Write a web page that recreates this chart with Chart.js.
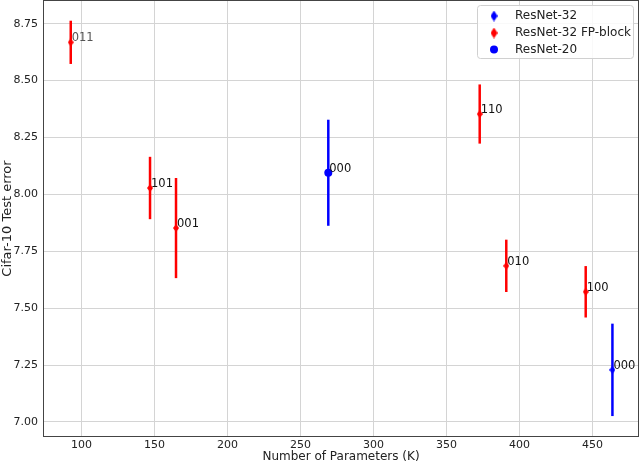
<!DOCTYPE html>
<html>
<head>
<meta charset="utf-8">
<script src="https://cdn.jsdelivr.net/npm/chart.js@4.4.1/dist/chart.umd.min.js"></script>
<style>
    html, body { margin: 0; padding: 0; background: #fff; }
    #wrap { width: 640px; height: 464px; }
</style>
</head>
<body>
<div id="wrap"><canvas id="chart" width="640" height="464"></canvas></div>
<script>
// Data
const fpParams = [92.6, 146.9, 164.7, 372.7, 390.9, 445.3];
const fpError = [8.668, 8.028, 7.852, 8.353, 7.686, 7.572];
const fpStd = [0.095, 0.137, 0.22, 0.13, 0.115, 0.113];
const fpCodes = ['011', '101', '001', '110', '010', '100'];

const r32Params = [463.6];
const r32Error = [7.229];
const r32Std = [0.203];
const r32Codes = ['000'];

const r20Params = [269.0];
const r20Error = [8.095];
const r20Std = [0.233];
const r20Codes = ['000'];

const seriesNames = ['ResNet-32', 'ResNet-32 FP-block', 'ResNet-20'];
const xTicks = [100, 150, 200, 250, 300, 350, 400, 450];
const yTicks = [7.00, 7.25, 7.50, 7.75, 8.00, 8.25, 8.50, 8.75];

const FONT = 'DejaVu Sans';
const RED = '#ff0000';
const BLUE = '#0000ff';

// Thin diamond marker, like matplotlib 'd'
const makeDiamond = (color, w, h) => {
    const c = document.createElement('canvas');
    c.width = w;
    c.height = h;
    const g = c.getContext('2d');
    g.fillStyle = color;
    g.beginPath();
    g.moveTo(w / 2, 0);
    g.lineTo(w, h / 2);
    g.lineTo(w / 2, h);
    g.lineTo(0, h / 2);
    g.closePath();
    g.fill();
    return c;
};

const toPoints = (xs, ys) => xs.map((x, i) => ({ x, y: ys[i] }));

const errorBars = {
    id: 'errorBars',
    beforeDatasetsDraw(chart) {
        const { ctx, scales: { y } } = chart;
        chart.data.datasets.forEach((ds, di) => {
            const meta = chart.getDatasetMeta(di);
            ctx.save();
            ctx.strokeStyle = ds.barColor;
            ctx.lineWidth = 2.5;
            meta.data.forEach((pt, i) => {
                const v = ds.data[i].y;
                ctx.beginPath();
                ctx.moveTo(pt.x, y.getPixelForValue(v + ds.errors[i]));
                ctx.lineTo(pt.x, y.getPixelForValue(v - ds.errors[i]));
                ctx.stroke();
            });
            ctx.restore();
        });
    },
    afterDatasetsDraw(chart) {
        const { ctx } = chart;
        ctx.save();
        ctx.font = '11.5px "' + FONT + '"';
        ctx.textBaseline = 'middle';
        ctx.textAlign = 'left';
        chart.data.datasets.forEach((ds, di) => {
            const meta = chart.getDatasetMeta(di);
            meta.data.forEach((pt, i) => {
                ctx.fillStyle = ds.codes[i] === '011' && di === 1 ? '#555' : '#111';
                ctx.fillText(ds.codes[i], pt.x + 1, pt.y - 4);
            });
        });
        ctx.restore();
    },
};

const frameAndLegend = {
    id: 'frameAndLegend',
    afterDraw(chart) {
        const { ctx, chartArea: a } = chart;
        ctx.save();
        ctx.strokeStyle = '#444';
        ctx.lineWidth = 1;
        ctx.strokeRect(a.left + 0.5, a.top + 0.5, a.right - a.left - 1, a.bottom - a.top - 1);

        // legend box
        const bx = 477.5, by = 5.5, bw = 156, bh = 53;
        ctx.fillStyle = 'rgba(255,255,255,0.85)';
        ctx.strokeStyle = '#d0d0d0';
        ctx.beginPath();
        ctx.roundRect(bx, by, bw, bh, 3);
        ctx.fill();
        ctx.stroke();

        ctx.font = '12px "' + FONT + '"';
        ctx.textBaseline = 'middle';
        const rows = [16, 33, 49.5];
        chart.data.datasets.forEach((ds, i) => {
            const cy = rows[i];
            if (ds.pointStyle === 'circle') {
                ctx.fillStyle = BLUE;
                ctx.beginPath();
                ctx.arc(494, cy, 4, 0, Math.PI * 2);
                ctx.fill();
            } else {
                const img = makeDiamond(ds.barColor, 7, 11);
                ctx.drawImage(img, 494 - 3.5, cy - 5.5);
            }
            ctx.fillStyle = '#222';
            ctx.fillText(ds.label, 515, cy);
        });
        ctx.restore();
    },
};

new Chart(document.getElementById('chart'), {
    type: 'scatter',
    data: {
        datasets: [
            {
                label: seriesNames[0],
                data: toPoints(r32Params, r32Error),
                errors: r32Std,
                codes: r32Codes,
                barColor: BLUE,
                pointStyle: makeDiamond(BLUE, 6, 8),
            },
            {
                label: seriesNames[1],
                data: toPoints(fpParams, fpError),
                errors: fpStd,
                codes: fpCodes,
                barColor: RED,
                pointStyle: makeDiamond(RED, 6, 8),
            },
            {
                label: seriesNames[2],
                data: toPoints(r20Params, r20Error),
                errors: r20Std,
                codes: r20Codes,
                barColor: BLUE,
                pointStyle: 'circle',
                pointRadius: 4,
                backgroundColor: BLUE,
                borderColor: BLUE,
                borderWidth: 0,
            },
        ],
    },
    options: {
        responsive: false,
        animation: false,
        layout: { autoPadding: false, padding: { top: 0, right: 1, left: 0, bottom: 0 } },
        plugins: {
            legend: { display: false },
            tooltip: { enabled: false },
        },
        scales: {
            x: {
                type: 'linear',
                min: 73.6,
                max: 481.8,
                afterBuildTicks: (s) => { s.ticks = xTicks.map(v => ({ value: v })); },
                afterFit: (s) => {
                    s.height = 27;
                    s.paddingLeft = 0;
                    s.paddingRight = 0;
                },
                grid: { color: '#d4d4d4', drawTicks: false },
                border: { display: false },
                ticks: {
                    padding: 2,
                    color: '#222',
                    font: { family: FONT, size: 11 },
                    callback: (v) => String(v),
                },
                title: {
                    display: true,
                    text: 'Number of Parameters (K)',
                    color: '#222',
                    font: { family: FONT, size: 12 },
                    padding: { top: 0, bottom: 0 },
                },
            },
            y: {
                type: 'linear',
                min: 6.934,
                max: 8.854,
                afterBuildTicks: (s) => { s.ticks = yTicks.map(v => ({ value: v })); },
                afterFit: (s) => {
                    s.width = 43;
                    s.paddingTop = 0;
                    s.paddingBottom = 0;
                },
                grid: { color: '#d4d4d4', drawTicks: false },
                border: { display: false },
                ticks: {
                    padding: 5,
                    color: '#222',
                    font: { family: FONT, size: 11 },
                    callback: (v) => Number(v).toFixed(2),
                },
                title: {
                    display: true,
                    text: 'Cifar-10 Test error',
                    color: '#222',
                    font: { family: FONT, size: 13 },
                    padding: { top: 0, bottom: 0 },
                },
            },
        },
    },
    plugins: [errorBars, frameAndLegend],
});
</script>
</body>
</html>
